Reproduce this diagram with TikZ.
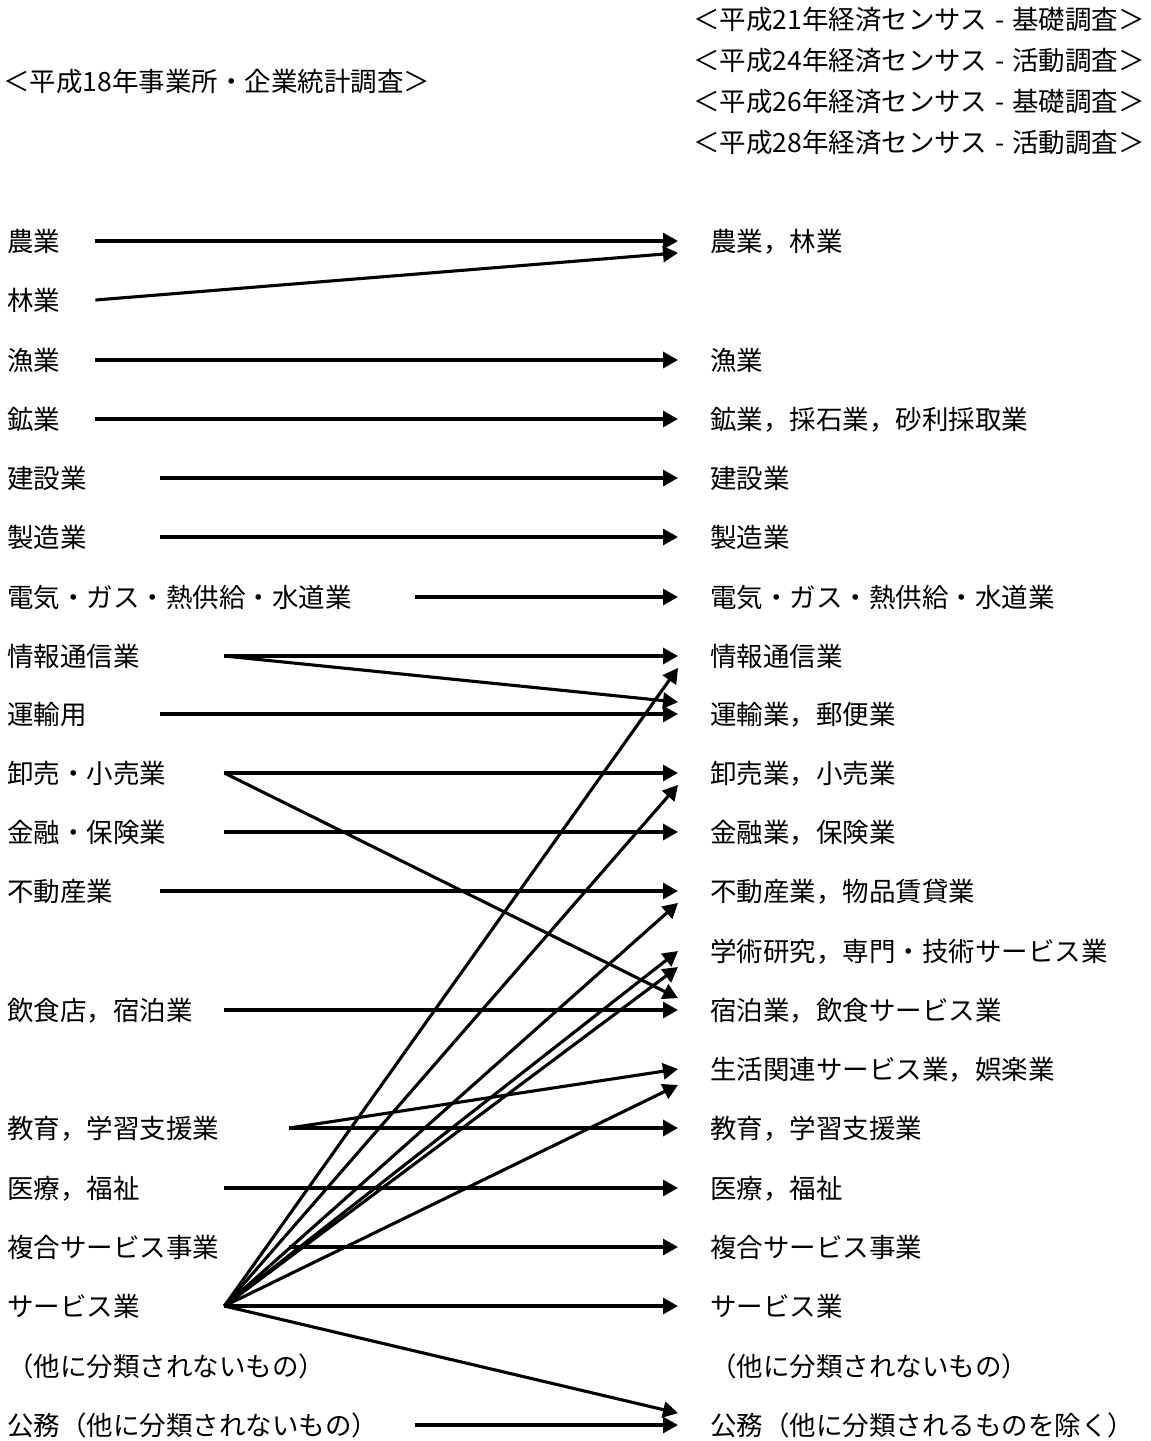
\documentclass[tikz,border=0pt]{standalone}
\usepackage{fontspec}
\setmainfont{Noto Sans CJK JP}
\usetikzlibrary{arrows.meta}
\setlength{\parindent}{0pt}

\begin{document}
\begin{tikzpicture}[
    x=1pt, y=-1pt,
    font=\fontsize{26.5pt}{31pt}\selectfont,
    every node/.style={inner sep=0pt, text height=21.8pt, text depth=1.6pt},
    oldcat/.style={anchor=west, text width=#1, align=left},
    newcat/.style={anchor=west, inner xsep=32pt},
    header/.style={anchor=west},
    arrow/.style={line width=3.1pt, -{Triangle[length=15pt,width=16pt]}}
]
    \useasboundingbox (0,0) rectangle (1151,1441);

    % Headers
    \node [header] (h18) at (3,81) {＜平成18年事業所・企業統計調査＞};
    \node [header] (h21) at (693,19) {＜平成21年経済センサス\hspace{0.3em}-\hspace{0.3em}基礎調査＞};
    \node [header] (h24) at (693,60) {＜平成24年経済センサス\hspace{0.3em}-\hspace{0.3em}活動調査＞};
    \node [header] (h26) at (693,101) {＜平成26年経済センサス\hspace{0.3em}-\hspace{0.3em}基礎調査＞};
    \node [header] (h28) at (693,142) {＜平成28年経済センサス\hspace{0.3em}-\hspace{0.3em}活動調査＞};

    % Old classification (left)
    \node [oldcat=88pt] (nogyo) at (7,241) {農業};
    \node [oldcat=88pt] (ringyo) at (7,300) {林業};
    \node [oldcat=88pt] (gyogyo) at (7,360) {漁業};
    \node [oldcat=88pt] (kogyo) at (7,419) {鉱業};
    \node [oldcat=153pt] (kensetsu) at (7,478) {建設業};
    \node [oldcat=153pt] (seizo) at (7,537) {製造業};
    \node [oldcat=408pt] (denki) at (7,597) {電気・ガス・熱供給・水道業};
    \node [oldcat=217pt] (joho) at (7,656) {情報通信業};
    \node [oldcat=153pt] (unyu) at (7,714) {運輸用};
    \node [oldcat=217pt] (oroshi) at (7,773) {卸売・小売業};
    \node [oldcat=217pt] (kinyu) at (7,832) {金融・保険業};
    \node [oldcat=153pt] (fudosan) at (7,891) {不動産業};
    \node [oldcat=217pt] (inshoku) at (7,1010) {飲食店，宿泊業};
    \node [oldcat=282pt] (kyoiku) at (7,1128) {教育，学習支援業};
    \node [oldcat=217pt] (iryo) at (7,1188) {医療，福祉};
    \node [oldcat=282pt] (fukugo) at (7,1247) {複合サービス事業};
    \node [oldcat=217pt] (service) at (7,1306) {サービス業};
    \node [oldcat=408pt] (serviceb) at (7,1366) {（他に分類されないもの）};
    \node [oldcat=408pt] (komu) at (7,1425) {公務（他に分類されないもの）};

    % New classification (right)
    \node [newcat] (n-norin) at (678,241) {農業，林業};
    \node [newcat] (n-gyogyo) at (678,360) {漁業};
    \node [newcat] (n-kogyo) at (678,419) {鉱業，採石業，砂利採取業};
    \node [newcat] (n-kensetsu) at (678,478) {建設業};
    \node [newcat] (n-seizo) at (678,537) {製造業};
    \node [newcat] (n-denki) at (678,597) {電気・ガス・熱供給・水道業};
    \node [newcat] (n-joho) at (678,656) {情報通信業};
    \node [newcat] (n-unyu) at (678,714) {運輸業，郵便業};
    \node [newcat] (n-oroshi) at (678,773) {卸売業，小売業};
    \node [newcat] (n-kinyu) at (678,832) {金融業，保険業};
    \node [newcat] (n-fudosan) at (678,891) {不動産業，物品賃貸業};
    \node [newcat] (n-gakujutsu) at (678,951) {学術研究，専門・技術サービス業};
    \node [newcat] (n-shukuhaku) at (678,1010) {宿泊業，飲食サービス業};
    \node [newcat] (n-seikatsu) at (678,1069) {生活関連サービス業，娯楽業};
    \node [newcat] (n-kyoiku) at (678,1128) {教育，学習支援業};
    \node [newcat] (n-iryo) at (678,1188) {医療，福祉};
    \node [newcat] (n-fukugo) at (678,1247) {複合サービス事業};
    \node [newcat] (n-service) at (678,1306) {サービス業};
    \node [newcat] (n-serviceb) at (678,1366) {（他に分類されないもの）};
    \node [newcat] (n-komu) at (678,1425) {公務（他に分類されるものを除く）};

    % Arrows
    \draw [arrow] (nogyo.east) -- (n-norin.west);
    \draw [arrow] (ringyo.east) -- (n-norin.south west);
    \draw [arrow] (gyogyo.east) -- (n-gyogyo.west);
    \draw [arrow] (kogyo.east) -- (n-kogyo.west);
    \draw [arrow] (kensetsu.east) -- (n-kensetsu.west);
    \draw [arrow] (seizo.east) -- (n-seizo.west);
    \draw [arrow] (denki.east) -- (n-denki.west);
    \draw [arrow] (joho.east) -- (n-joho.west);
    \draw [arrow] (joho.east) -- (n-unyu.north west);
    \draw [arrow] (unyu.east) -- (n-unyu.west);
    \draw [arrow] (oroshi.east) -- (n-oroshi.west);
    \draw [arrow] (oroshi.east) -- (n-shukuhaku.north west);
    \draw [arrow] (kinyu.east) -- (n-kinyu.west);
    \draw [arrow] (fudosan.east) -- (n-fudosan.west);
    \draw [arrow] (inshoku.east) -- (n-shukuhaku.west);
    \draw [arrow] (kyoiku.east) -- (n-kyoiku.west);
    \draw [arrow] (kyoiku.east) -- (n-seikatsu.west);
    \draw [arrow] (iryo.east) -- (n-iryo.west);
    \draw [arrow] (fukugo.east) -- (n-fukugo.west);
    \draw [arrow] (service.east) -- (n-joho.south west);
    \draw [arrow] (service.east) -- (n-oroshi.south west);
    \draw [arrow] (service.east) -- (n-fudosan.south west);
    \draw [arrow] (service.east) -- (n-gakujutsu.west);
    \draw [arrow] (service.east) -- ([yshift=-16pt]n-gakujutsu.west);
    \draw [arrow] (service.east) -- ([yshift=-16pt]n-seikatsu.west);
    \draw [arrow] (service.east) -- (n-service.west);
    \draw [arrow] (service.east) -- (n-komu.north west);
    \draw [arrow] (komu.east) -- (n-komu.west);

\end{tikzpicture}
\end{document}
